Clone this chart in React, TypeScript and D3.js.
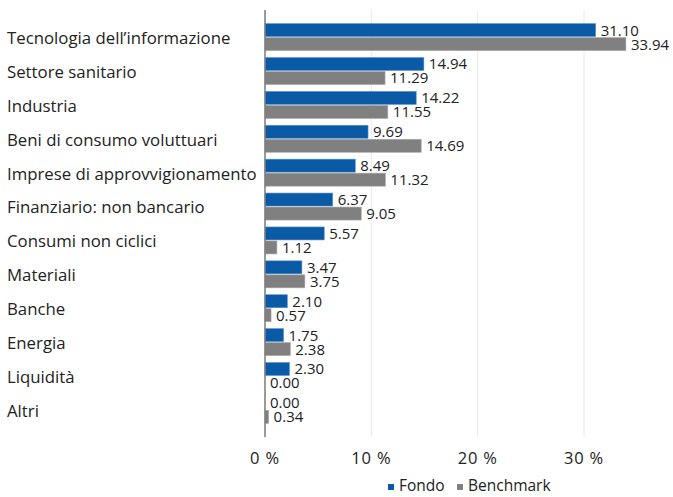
import * as d3 from "d3";
import { useEffect, useRef } from "react";

const categories = [
  "Tecnologia dell\u2019informazione",
  "Settore sanitario",
  "Industria",
  "Beni di consumo voluttuari",
  "Imprese di approvvigionamento",
  "Finanziario: non bancario",
  "Consumi non ciclici",
  "Materiali",
  "Banche",
  "Energia",
  "Liquidità",
  "Altri",
];
const fondo = [31.1, 14.94, 14.22, 9.69, 8.49, 6.37, 5.57, 3.47, 2.1, 1.75, 2.3, 0.0];
const benchmark = [33.94, 11.29, 11.55, 14.69, 11.32, 9.05, 1.12, 3.75, 0.57, 2.38, 0.0, 0.34];
const ticks = [0, 10, 20, 30];
const seriesNames = ["Fondo", "Benchmark"];
const colors = ["#0b5aa6", "#808080"];

const font = "'Open Sans', 'Noto Sans', sans-serif";

const App = () => {
  const ref = useRef<SVGSVGElement | null>(null);

  useEffect(() => {
    const svg = d3.select(ref.current);
    svg.selectAll("*").remove();

    const x = d3.scaleLinear().domain([0, 30]).range([265, 584]);
    const y = d3
      .scaleBand()
      .domain(categories)
      .range([10, 437])
      .paddingOuter(0.3)
      .paddingInner(0);
    const barH = 13;

    // gridlines
    svg
      .append("g")
      .selectAll("line")
      .data(ticks.slice(1))
      .enter()
      .append("line")
      .attr("x1", (d) => x(d))
      .attr("x2", (d) => x(d))
      .attr("y1", 10)
      .attr("y2", 437)
      .attr("stroke", "#e8e8e8")
      .attr("stroke-width", 1);

    const rows = svg
      .append("g")
      .selectAll("g")
      .data(categories)
      .enter()
      .append("g")
      .attr("transform", (d) => `translate(0,${y(d)! + y.bandwidth() / 2})`);

    rows
      .append("text")
      .attr("x", 7)
      .attr("y", 1)
      .attr("dy", "0.35em")
      .attr("font-family", font)
      .attr("font-size", 16.8)
      .attr("fill", "#222")
      .text((d) => d);

    [fondo, benchmark].forEach((vals, s) => {
      const off = s === 0 ? -barH - 0.5 : 0.5;
      rows
        .append("rect")
        .attr("x", x(0))
        .attr("y", off)
        .attr("width", (_d, i) => Math.max(0, x(vals[i]) - x(0)))
        .attr("height", barH)
        .attr("fill", colors[s])
        .attr("stroke", s === 0 ? "#5b93cc" : "#a8a8a8")
        .attr("stroke-width", 0.6);
      rows
        .append("text")
        .attr("x", (_d, i) => x(vals[i]) + 5)
        .attr("y", off + barH / 2)
        .attr("dy", "0.36em")
        .attr("font-family", font)
        .attr("font-size", 15)
        .attr("fill", "#222")
        .text((_d, i) => vals[i].toFixed(2));
    });

    // vertical axis line
    svg
      .append("line")
      .attr("x1", x(0))
      .attr("x2", x(0))
      .attr("y1", 10)
      .attr("y2", 437)
      .attr("stroke", "#7a7a7a")
      .attr("stroke-width", 1.5);

    svg
      .append("g")
      .selectAll("text")
      .data(ticks)
      .enter()
      .append("text")
      .attr("x", (d) => x(d))
      .attr("y", 458)
      .attr("dy", "0.35em")
      .attr("text-anchor", "middle")
      .attr("font-family", font)
      .attr("font-size", 16.5)
      .attr("letter-spacing", 0.8)
      .attr("fill", "#222")
      .text((d) => `${d} %`);

    // legend
    const legendX = [388, 457];
    const lg = svg
      .append("g")
      .selectAll("g")
      .data(seriesNames)
      .enter()
      .append("g")
      .attr("transform", (_d, i) => `translate(${legendX[i]},486)`);
    lg.append("rect")
      .attr("x", 0)
      .attr("y", -2)
      .attr("width", 6)
      .attr("height", 6)
      .attr("fill", (_d, i) => colors[i]);
    lg.append("text")
      .attr("x", 11)
      .attr("y", 0)
      .attr("dy", "0.35em")
      .attr("font-family", font)
      .attr("font-size", 15.5)
      .attr("fill", "#222")
      .text((d) => d);
  }, []);

  return (
    <svg
      ref={ref}
      width={673}
      height={497}
      style={{ position: "absolute", left: 0, top: 0, background: "#fff" }}
    />
  );
};

export default App;
